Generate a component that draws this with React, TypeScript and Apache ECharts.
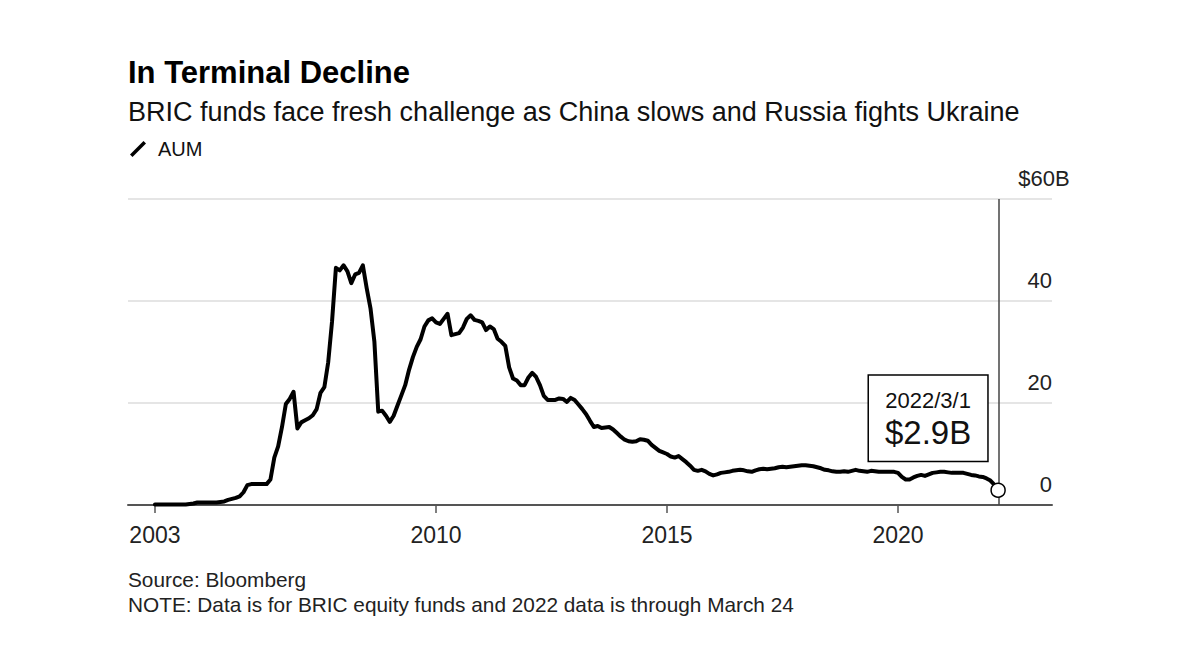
import React, { useEffect, useRef } from "react";
import * as echarts from "echarts";

// ---- Data ----
const titleText = "In Terminal Decline";
const subtitleText = "BRIC funds face fresh challenge as China slows and Russia fights Ukraine";
const seriesName = "AUM";
const sourceText = "Source: Bloomberg";
const noteText = "NOTE: Data is for BRIC equity funds and 2022 data is through March 24";

// Monthly AUM ($B), starting December 2003 through March 2022
const startYear = 2003;
const startMonth = 12;
const aum: number[] = [
  0.1, 0.1, 0.1, 0.1, 0.1, 0.1, 0.1, 0.1, 0.1, 0.2, 0.3, 0.5, 0.5, 0.5, 0.5, 0.5, 0.5, 0.6, 0.7, 1.0,
  1.2, 1.4, 1.7, 2.5, 3.9, 4.1, 4.1, 4.1, 4.1, 4.1, 5.0, 9.3, 11.5, 15.3, 19.8, 20.8, 22.2, 15.0, 16.2, 16.6,
  17.0, 17.6, 18.8, 22.0, 23.1, 28.0, 36.0, 46.5, 46.0, 47.0, 45.8, 43.5, 45.2, 45.5, 47.0, 42.5, 38.5, 32.0, 18.3, 18.5,
  17.5, 16.3, 17.5, 19.5, 21.5, 23.5, 26.5, 29.0, 31.0, 32.5, 35.0, 36.2, 36.6, 35.8, 35.5, 36.5, 37.5, 33.3, 33.5, 33.7,
  34.8, 36.5, 37.2, 36.3, 36.1, 35.8, 34.3, 35.0, 34.5, 32.6, 32.0, 31.2, 27.0, 24.8, 24.4, 23.5, 23.5, 25.0, 25.9, 25.1,
  23.5, 21.4, 20.6, 20.6, 20.6, 20.9, 20.8, 20.2, 21.0, 20.6, 19.7, 18.8, 17.8, 16.5, 15.3, 15.5, 15.1, 15.2, 15.3, 14.8,
  14.1, 13.4, 12.8, 12.5, 12.4, 12.5, 12.9, 12.8, 12.6, 11.8, 11.2, 10.6, 10.3, 10.0, 9.5, 9.3, 9.6, 9.0, 8.4, 7.7,
  6.9, 6.7, 6.9, 6.6, 6.1, 5.8, 6.0, 6.3, 6.4, 6.5, 6.7, 6.8, 6.9, 6.8, 6.6, 6.5, 6.8, 7.0, 7.1, 7.0,
  7.1, 7.2, 7.4, 7.5, 7.4, 7.5, 7.6, 7.7, 7.8, 7.8, 7.7, 7.6, 7.4, 7.2, 6.9, 6.8, 6.6, 6.5, 6.5, 6.6,
  6.5, 6.7, 6.9, 6.7, 6.6, 6.5, 6.7, 6.6, 6.5, 6.5, 6.5, 6.5, 6.5, 6.3, 5.5, 5.0, 5.0, 5.4, 5.7, 5.9,
  5.7, 6.0, 6.3, 6.4, 6.5, 6.5, 6.4, 6.3, 6.3, 6.3, 6.3, 6.1, 5.9, 5.8, 5.6, 5.5, 5.2, 4.8, 4.0, 2.9,
];
const xTickYears = [2010, 2015, 2020];
const yTicks = [0, 20, 40, 60];
const yTopLabel = "$60B";
const lastDateLabel = "2022/3/1";
const lastValueLabel = "$2.9B";

const FONT = "'Liberation Sans', Arial, Helvetica, sans-serif";

export default function App() {
  const ref = useRef<HTMLDivElement>(null);

  useEffect(() => {
    if (!ref.current) return;
    const chart = echarts.init(ref.current, undefined, { renderer: "svg" });

    const xs = aum.map((_, i) => startYear + (startMonth - 1 + i) / 12);
    const data = aum.map((v, i) => [xs[i], v]);
    const firstX = xs[0];
    const lastX = xs[xs.length - 1];
    const lastV = aum[aum.length - 1];
    const tickVals = [firstX, ...xTickYears];

    chart.setOption({
      animation: false,
      textStyle: { fontFamily: FONT },
      title: [
        {
          text: titleText,
          left: 128,
          top: 57,
          padding: 0,
          textStyle: { fontSize: 31, fontWeight: "bold", color: "#000", lineHeight: 31, fontFamily: FONT },
        },
        {
          text: subtitleText,
          left: 128,
          top: 98,
          padding: 0,
          textStyle: { fontSize: 27, fontWeight: "normal", color: "#111", lineHeight: 27, fontFamily: FONT },
        },
      ],
      legend: {
        left: 130,
        top: 139,
        padding: 0,
        itemWidth: 16,
        itemHeight: 16,
        icon: "path://M0,13.5L13.5,0L16,2.5L2.5,16Z",
        textStyle: { fontSize: 20, color: "#111", padding: [0, 0, 0, 7], fontFamily: FONT },
        data: [seriesName],
      },
      grid: { left: 128, right: 148, top: 199, bottom: 158, containLabel: false },
      xAxis: {
        type: "value",
        min: 2003 + 4 / 12,
        max: 2023 + 4 / 12,
        axisLine: { show: true, lineStyle: { color: "#555", width: 2 } },
        axisTick: { show: true, customValues: tickVals, length: 8, lineStyle: { color: "#555", width: 1.5 } },
        axisLabel: {
          customValues: tickVals,
          formatter: (v: number) => String(Math.floor(v + 1e-6)),
          fontSize: 23,
          lineHeight: 23,
          color: "#222",
          margin: 18,
          fontFamily: FONT,
        },
        splitLine: { show: false },
      },
      yAxis: {
        type: "value",
        position: "right",
        min: 0,
        max: 60,
        interval: 20,
        axisLine: { show: false },
        axisTick: { show: false },
        splitLine: { show: true, lineStyle: { color: "#dcdcdc", width: 1.5 } },
        axisLabel: {
          inside: true,
          margin: 0,
          align: "right",
          verticalAlign: "bottom",
          lineHeight: 22,
          padding: [0, 0, 10, 0],
          fontSize: 22,
          color: "#222",
          fontFamily: FONT,
          formatter: (v: number) => (v === yTicks[yTicks.length - 1] ? "" : String(v)),
        },
      },
      graphic: [
        {
          type: "text",
          x: 1044,
          y: 178,
          style: { text: yTopLabel, fontSize: 22, fontFamily: FONT, fill: "#222", align: "center", verticalAlign: "middle" },
        },
        {
          type: "text",
          x: 128,
          y: 579,
          style: { text: sourceText, fontSize: 20.8, fontFamily: FONT, fill: "#222", align: "left", verticalAlign: "middle" },
        },
        {
          type: "text",
          x: 128,
          y: 604,
          style: { text: noteText, fontSize: 20.8, fontFamily: FONT, fill: "#222", align: "left", verticalAlign: "middle" },
        },
      ],
      series: [
        {
          name: seriesName,
          type: "line",
          data,
          showSymbol: false,
          symbol: "none",
          color: "#000",
          lineStyle: { color: "#000", width: 4, join: "round", cap: "round" },
          z: 3,
          markLine: {
            silent: true,
            symbol: ["none", "none"],
            label: { show: false },
            lineStyle: { color: "#444", width: 1.5, type: "solid" },
            data: [{ xAxis: lastX }],
            z: 2,
          },
          markPoint: {
            silent: true,
            data: [
              {
                coord: [lastX, lastV],
                symbol: "circle",
                symbolSize: 14,
                itemStyle: { color: "#fff", borderColor: "#000", borderWidth: 1.5 },
                label: { show: false },
              },
              {
                coord: [lastX, lastV],
                symbol: "circle",
                symbolSize: 1,
                itemStyle: { color: "rgba(0,0,0,0)" },
                label: {
                  show: true,
                  position: "inside",
                  offset: [-70, -72],
                  formatter: () => `{dt|${lastDateLabel}}\n{val|${lastValueLabel}}`,
                  backgroundColor: "#fff",
                  borderColor: "#000",
                  borderWidth: 1.5,
                  padding: [12, 16, 9, 16],
                  align: "center",
                  rich: {
                    dt: { fontSize: 22, lineHeight: 26, color: "#111", fontFamily: FONT, align: "center" },
                    val: { fontSize: 33, lineHeight: 38, color: "#111", fontFamily: FONT, align: "center" },
                  },
                },
              },
            ],
          },
        },
      ],
    });

    return () => chart.dispose();
  }, []);

  return (
    <div
      ref={ref}
      style={{ position: "absolute", left: 0, top: 0, width: 1200, height: 663, background: "#fff" }}
    />
  );
}
